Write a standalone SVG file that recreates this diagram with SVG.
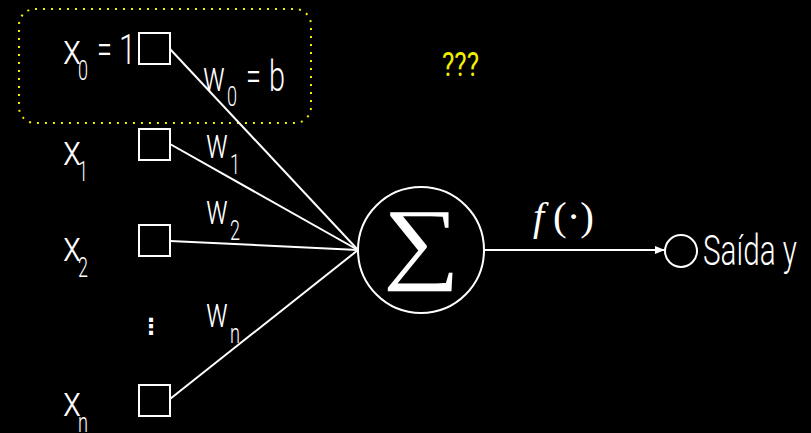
<svg xmlns="http://www.w3.org/2000/svg" width="811" height="433" viewBox="0 0 811 433">
<style>
.t{font-family:Roboto,"Liberation Sans",sans-serif;font-weight:300;fill:#fff;font-size:43px}
.s{font-family:Roboto,"Liberation Sans",sans-serif;font-weight:300;fill:#fff;font-size:28px}
.box{fill:none;stroke:#fff;stroke-width:2}
.edge{fill:none;stroke:#fff;stroke-width:2}
</style>
<defs>
<marker id="ah" viewBox="0 0 10 8" refX="10" refY="4" markerWidth="10" markerHeight="8" markerUnits="userSpaceOnUse" orient="auto">
<path d="M0,0 L10,4 L0,8 Z" fill="#fff"/>
</marker>
</defs>
<rect width="811" height="433" fill="#000"/>
<rect id="bias-group" x="19" y="9" width="292" height="114" rx="16" fill="none" stroke="#f0f000" stroke-width="2" stroke-dasharray="2 6"/>
<g id="connectors">
<line class="edge" x1="170" y1="49" x2="358" y2="250"/>
<line class="edge" x1="170" y1="144" x2="358" y2="250"/>
<line class="edge" x1="170" y1="241" x2="358" y2="250"/>
<line class="edge" x1="170" y1="399" x2="358" y2="250"/>
<line class="edge" x1="484" y1="250" x2="665" y2="250" marker-end="url(#ah)"/>
</g>
<g id="in0">
<rect class="box" x="139" y="33" width="31" height="31"/>
<text class="t" x="63" y="64" textLength="18" lengthAdjust="spacingAndGlyphs">x</text>
<text class="s" x="78" y="80" textLength="10" lengthAdjust="spacingAndGlyphs">0</text>
<text class="t" x="97" y="64" textLength="15" lengthAdjust="spacingAndGlyphs">=</text>
<text class="t" x="119" y="64" textLength="17" lengthAdjust="spacingAndGlyphs">1</text>
</g>
<g id="in1">
<rect class="box" x="139" y="129" width="31" height="31"/>
<text class="t" x="63" y="165" textLength="18" lengthAdjust="spacingAndGlyphs">x</text>
<text class="s" x="78" y="181" textLength="10" lengthAdjust="spacingAndGlyphs">1</text>
</g>
<g id="in2">
<rect class="box" x="139" y="225" width="31" height="31"/>
<text class="t" x="63" y="261" textLength="18" lengthAdjust="spacingAndGlyphs">x</text>
<text class="s" x="78" y="277" textLength="10" lengthAdjust="spacingAndGlyphs">2</text>
</g>
<g id="dots">
<text x="151" y="334" text-anchor="middle" style="font-family:'DejaVu Sans',sans-serif;font-size:22px;font-weight:bold;fill:#fff">⋮</text>
</g>
<g id="inn">
<rect class="box" x="139" y="385" width="31" height="31"/>
<text class="t" x="63" y="416" textLength="18" lengthAdjust="spacingAndGlyphs">x</text>
<text class="s" x="78" y="432" textLength="10" lengthAdjust="spacingAndGlyphs">n</text>
</g>
<g id="weights">
<text class="t" x="203" y="91" textLength="22" lengthAdjust="spacingAndGlyphs">w</text>
<text class="s" x="227" y="106" textLength="10" lengthAdjust="spacingAndGlyphs">0</text>
<text class="t" x="246" y="91" textLength="15" lengthAdjust="spacingAndGlyphs">=</text>
<text class="t" x="269" y="91" textLength="16" lengthAdjust="spacingAndGlyphs">b</text>
<text class="t" x="206" y="158" textLength="22" lengthAdjust="spacingAndGlyphs">w</text>
<text class="s" x="230" y="174" textLength="10" lengthAdjust="spacingAndGlyphs">1</text>
<text class="t" x="206" y="224" textLength="22" lengthAdjust="spacingAndGlyphs">w</text>
<text class="s" x="230" y="240" textLength="10" lengthAdjust="spacingAndGlyphs">2</text>
<text class="t" x="206" y="327" textLength="22" lengthAdjust="spacingAndGlyphs">w</text>
<text class="s" x="230" y="343" textLength="10" lengthAdjust="spacingAndGlyphs">n</text>
</g>
<g id="unknown">
<text x="442" y="76" textLength="37" lengthAdjust="spacingAndGlyphs" style="font-family:Roboto,'Liberation Sans',sans-serif;font-size:33px;fill:#f0f000">???</text>
</g>
<g id="sum">
<circle cx="421" cy="250" r="63" fill="none" stroke="#fff" stroke-width="2"/>
<text x="383" y="272" textLength="77" lengthAdjust="spacingAndGlyphs" style="font-family:'Liberation Serif','DejaVu Serif',serif;font-size:91px;fill:#fff">∑</text>
</g>
<g id="activation">
<text x="533" y="230" style="font-family:'Liberation Serif',serif;font-size:40px;font-style:italic;fill:#fff">f</text>
<text x="553" y="230" textLength="41" lengthAdjust="spacingAndGlyphs" style="font-family:'Liberation Serif',serif;font-size:40px;fill:#fff">(·)</text>
</g>
<g id="output">
<circle cx="681" cy="251" r="16" fill="none" stroke="#fff" stroke-width="2"/>
<text class="t" x="703" y="265" textLength="94" lengthAdjust="spacingAndGlyphs" style="font-size:42px">Saída y</text>
</g>
</svg>
